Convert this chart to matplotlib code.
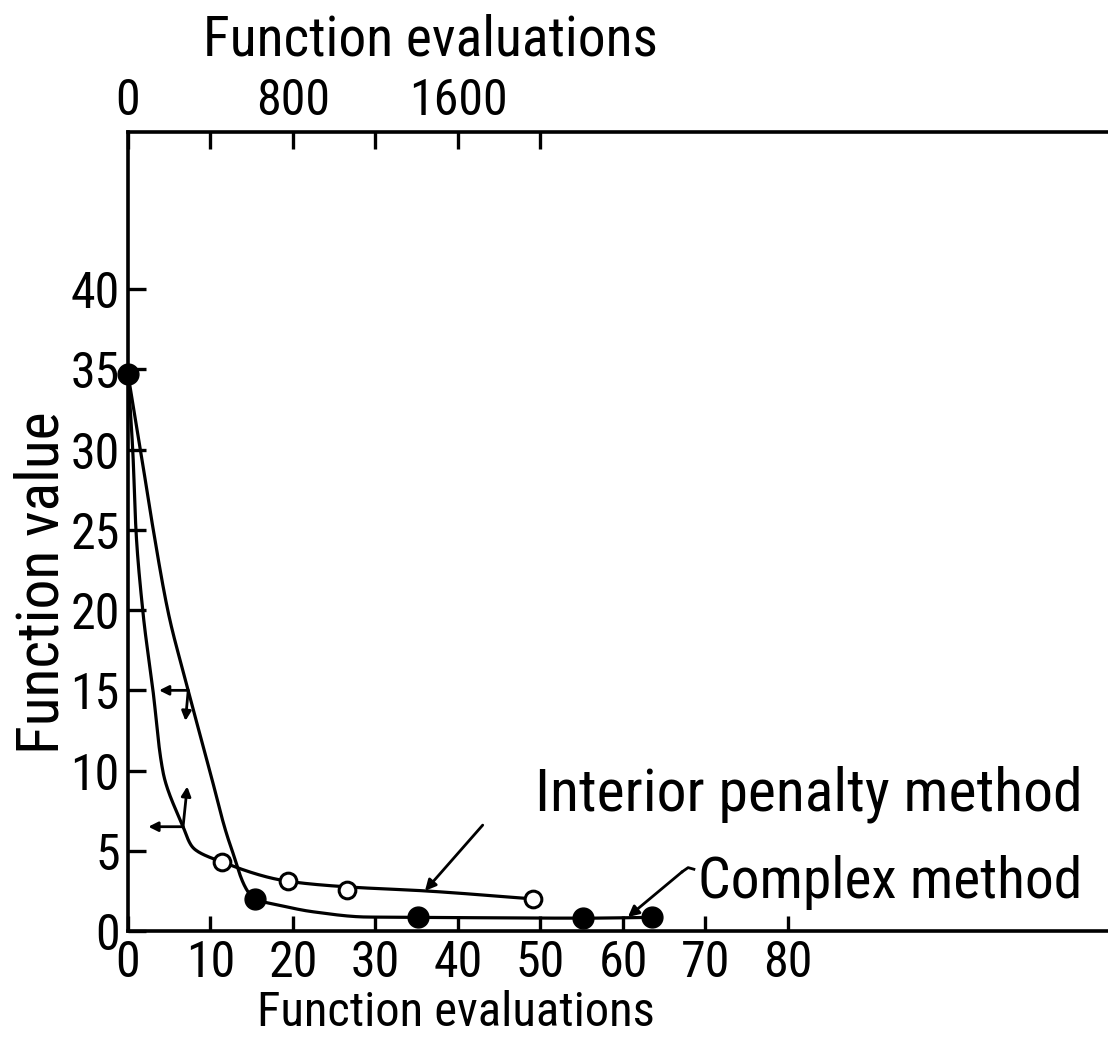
import matplotlib
matplotlib.use('Agg')
import numpy as np
import matplotlib.pyplot as plt

plt.rcParams['font.family'] = ['Roboto Condensed', 'DejaVu Sans']

# ---- data ----
# Complex method: bottom axis (function evaluations, 0..80)
complex_x = [0, 15.4, 35.2, 55.2, 63.5]
complex_y = [34.7, 2.0, 0.85, 0.8, 0.85]
complex_curve_x = [0, 1.6, 3.1, 4.9, 7.3, 9.9, 12.5, 15.4, 18.4, 22.4, 29.0, 35.2, 55.2, 63.5]
complex_curve_y = [34.7, 29.7, 24.9, 19.8, 15.0, 10.0, 5.2, 2.0, 1.6, 1.2, 0.87, 0.85, 0.8, 0.85]

# Interior penalty method: top axis (function evaluations, 0..1600+)
penalty_x = [456, 776, 1062, 1964]
penalty_y = [4.3, 3.1, 2.55, 2.0]
penalty_curve_x = [0, 24, 39, 73, 121, 170, 267, 315, 456, 776, 1062, 1440, 1964]
penalty_curve_y = [34.7, 29.7, 24.9, 19.8, 15.0, 9.9, 6.5, 5.2, 4.3, 3.1, 2.75, 2.5, 2.0]

bottom_ticks = [0, 10, 20, 30, 40, 50, 60, 70, 80]
bottom_labels = ['0', '10', '20', '30', '40', '50', '60', '70', '80']
top_ticks = [0, 400, 800, 1200, 1600, 2000]
top_labels = ['0', '', '800', '', '1600', '']
y_ticks = [0, 5, 10, 15, 20, 25, 30, 35, 40]
y_labels = ['0', '5', '10', '15', '20', '25', '30', '35', '40']


def smooth_path(xs, ys, xr, yr, n=60):
    """Draw a smooth (monotone cubic) path through traced curve points."""
    xs = np.asarray(xs, float)
    ys = np.asarray(ys, float)
    seg = np.hypot(np.diff(xs) / xr, np.diff(ys) / yr)
    t = np.concatenate([[0], np.cumsum(seg)])

    def pchip(t, y, tt):
        h = np.diff(t)
        d = np.diff(y) / h
        m = np.zeros_like(y)
        m[0], m[-1] = d[0], d[-1]
        for k in range(1, len(y) - 1):
            if d[k - 1] * d[k] <= 0:
                m[k] = 0.0
            else:
                w1 = 2 * h[k] + h[k - 1]
                w2 = h[k] + 2 * h[k - 1]
                m[k] = (w1 + w2) / (w1 / d[k - 1] + w2 / d[k])
        out = np.empty_like(tt)
        idx = np.clip(np.searchsorted(t, tt) - 1, 0, len(t) - 2)
        for i, (ti, k) in enumerate(zip(tt, idx)):
            hk = h[k]
            s = (ti - t[k]) / hk
            h00 = 2 * s**3 - 3 * s**2 + 1
            h10 = s**3 - 2 * s**2 + s
            h01 = -2 * s**3 + 3 * s**2
            h11 = s**3 - s**2
            out[i] = h00 * y[k] + h10 * hk * m[k] + h01 * y[k + 1] + h11 * hk * m[k + 1]
        return out

    tt = np.linspace(0, t[-1], n * len(xs))
    return pchip(t, xs, tt), pchip(t, ys, tt)


W, H = 1108, 1043
fig = plt.figure(figsize=(W / 100, H / 100), dpi=100)
left_px, right_px, top_px, bottom_px = 128, 1108, 132, 931
ax = fig.add_axes([left_px / W, 1 - bottom_px / H, (right_px - left_px) / W, (bottom_px - top_px) / H])
XMAX = 118.8
YMAX = 49.8
RATIO = 40.0
ax.set_xlim(0, XMAX)
ax.set_ylim(0, YMAX)
ax2 = ax.twiny()
ax2.set_xlim(0, XMAX * RATIO)

for a in (ax, ax2):
    a.spines['right'].set_visible(False)
    for s in a.spines.values():
        s.set_linewidth(2.6)
ax.spines['top'].set_visible(False)
ax2.spines['bottom'].set_visible(False)
ax2.spines['left'].set_visible(False)

ax.set_xticks(bottom_ticks)
ax.set_xticklabels(bottom_labels)
ax.set_yticks(y_ticks)
ax.set_yticklabels(y_labels)
ax.tick_params(axis='x', direction='in', length=11, width=2.4, labelsize=36, pad=6)
ax.tick_params(axis='y', direction='in', length=13, width=2.4, labelsize=36, pad=6)
ax2.set_xticks(top_ticks)
ax2.set_xticklabels(top_labels)
ax2.tick_params(axis='x', direction='in', length=12, width=2.4, labelsize=36, pad=5)

lw = 2.3
# complex method (bottom axis)
cx, cy = smooth_path(complex_curve_x, complex_curve_y, XMAX, YMAX)
ax.plot(cx, cy, color='black', lw=lw, clip_on=False, solid_capstyle='round')
ax.plot(complex_x, complex_y, 'o', color='black', ms=15, clip_on=False, zorder=5)
# interior penalty method (top axis)
px, py = smooth_path(penalty_curve_x, penalty_curve_y, XMAX * RATIO, YMAX)
ax2.plot(px, py, color='black', lw=lw, clip_on=False, solid_capstyle='round')
ax2.plot(penalty_x, penalty_y, 'o', mfc='white', mec='black', mew=2.2, ms=12, clip_on=False, zorder=5)

arrow = dict(arrowstyle='<|-', color='black', lw=2.0, mutation_scale=14, shrinkA=0, shrinkB=0)
# axis indicator arrows on the complex curve (left + down -> bottom axis)
cj = (complex_curve_x[4], complex_curve_y[4])
ax.annotate('', xy=cj, xytext=(-21, 0), textcoords='offset points', arrowprops=arrow)
ax.annotate('', xy=cj, xytext=(-2, -22), textcoords='offset points', arrowprops=arrow)
# axis indicator arrows on the penalty curve (left + up -> top axis)
pj = (penalty_curve_x[6], penalty_curve_y[6])
ax2.annotate('', xy=pj, xytext=(-25, 0), textcoords='offset points', arrowprops=arrow)
ax2.annotate('', xy=pj, xytext=(3, 29), textcoords='offset points', arrowprops=arrow)

# labels with leader arrows
lead = dict(arrowstyle='-|>', color='black', lw=2.0, mutation_scale=16, shrinkA=0, shrinkB=0)
ax2.annotate('', xy=(penalty_curve_x[11], penalty_curve_y[11]), xytext=(43.0 * RATIO, 6.6),
             arrowprops=lead)
ax.text(49.3, 8.5, 'Interior penalty method', fontsize=43, ha='left', va='center')
ax.annotate('', xy=(60.6, 0.87), xytext=(67.2, 3.7), arrowprops=lead)
ax.plot([67.2, 67.9, 68.6], [3.7, 3.95, 3.85], color='black', lw=2.0)
ax.text(69.1, 3.0, 'Complex method', fontsize=41.5, ha='left', va='center')

# axis titles
fig.text(456 / W, 1 - 1013 / H, 'Function evaluations', fontsize=35, ha='center', va='center')
fig.text(430 / W, 1 - 40 / H, 'Function evaluations', fontsize=40, ha='center', va='center')
fig.text(42 / W, 1 - 583 / H, 'Function value', fontsize=43, ha='center', va='center', rotation=90)

fig.savefig('out.png', dpi=100, facecolor='white')
